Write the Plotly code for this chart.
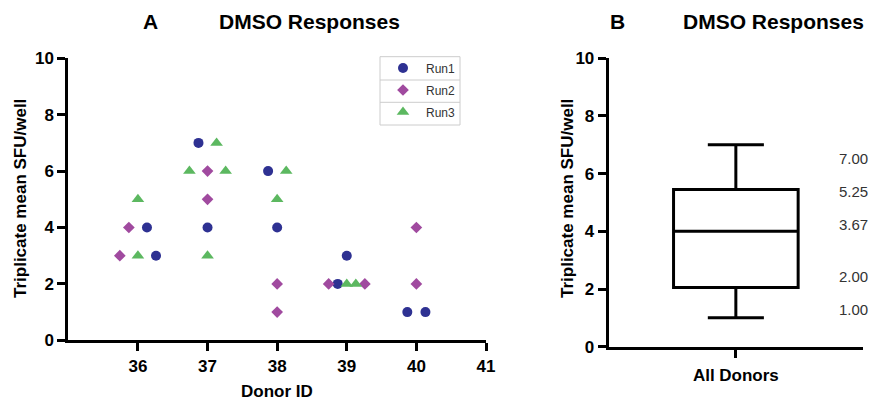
import plotly.graph_objects as go

# ---- data ----
run1_x = [36.13, 36.26, 36.87, 37.0, 37.87, 38.0, 38.87, 39.0, 39.87, 40.13]
run1_y = [4, 3, 7, 4, 6, 4, 2, 3, 1, 1]
run2_x = [35.74, 35.87, 37.0, 37.0, 38.0, 38.0, 38.74, 39.26, 40.0, 40.0]
run2_y = [3, 4, 6, 5, 2, 1, 2, 2, 4, 2]
run3_x = [36.0, 36.0, 36.74, 37.0, 37.13, 37.26, 38.0, 38.13, 39.0, 39.13]
run3_y = [5, 3, 6, 3, 7, 6, 5, 6, 2, 2]
series_names = ["Run1", "Run2", "Run3"]
donor_ticks = [36, 37, 38, 39, 40, 41]
y_ticks = [0, 2, 4, 6, 8, 10]

box_category = ["All Donors"]
box_min = [1.0]
box_q1 = [2.05]
box_median = [4.0]
box_q3 = [5.45]
box_max = [7.0]
box_labels = ["7.00", "5.25", "3.67", "2.00", "1.00"]
box_label_y = [6.54, 5.39, 4.23, 2.45, 1.29]

# ---- style ----
W, H = 878, 402
FONT = "Liberation Sans, Arial, sans-serif"
C1, C2, C3 = "#2E3192", "#A04A9F", "#5CB860"


def px_x(p):
    return p / W


def px_y(p):
    return 1 - p / H


fig = go.Figure()
fig.add_trace(go.Scatter(x=run1_x, y=run1_y, mode="markers", name=series_names[0],
                         legendgroup="a", marker=dict(symbol="circle", size=10, color=C1),
                         xaxis="x", yaxis="y"))
fig.add_trace(go.Scatter(x=run2_x, y=run2_y, mode="markers", name=series_names[1],
                         legendgroup="b", marker=dict(symbol="diamond", size=9, color=C2),
                         xaxis="x", yaxis="y"))
fig.add_trace(go.Scatter(x=run3_x, y=run3_y, mode="markers", name=series_names[2],
                         legendgroup="c", marker=dict(symbol="triangle-up", size=11, color=C3),
                         xaxis="x", yaxis="y"))

fig.add_trace(go.Box(x=box_category, q1=box_q1, median=box_median, q3=box_q3,
                     lowerfence=box_min, upperfence=box_max,
                     width=0.49, whiskerwidth=0.45, fillcolor="white",
                     line=dict(color="black", width=3), boxpoints=False,
                     showlegend=False, xaxis="x2", yaxis="y2", hoverinfo="skip"))

axis_common = dict(showline=True, linecolor="black", linewidth=3, ticks="outside",
                   tickwidth=3, ticklen=8, tickcolor="black", showgrid=False,
                   zeroline=False, automargin=False,
                   tickfont=dict(family=FONT, size=17, color="black", weight="bold"))

fig.update_layout(
    width=W, height=H,
    margin=dict(l=0, r=0, t=0, b=0),
    paper_bgcolor="white", plot_bgcolor="white",
    font=dict(family=FONT),
    xaxis=dict(domain=[px_x(68.3), px_x(486)], range=[35, 41], tickvals=donor_ticks,
               anchor="y", ticklabelstandoff=0, **axis_common),
    yaxis=dict(domain=[px_y(340.3), px_y(58.3)], range=[0, 10], tickvals=y_ticks,
               anchor="x", **axis_common),
    xaxis2=dict(domain=[px_x(608.7), px_x(863)], type="category", range=[-0.5, 0.5],
                anchor="y2", ticklabelstandoff=3, **axis_common),
    yaxis2=dict(domain=[px_y(346.7), px_y(58.3)], range=[0, 10], tickvals=y_ticks,
                anchor="x2", **axis_common),
    legend=dict(x=px_x(380), y=px_y(53.5), xanchor="left", yanchor="top",
                borderwidth=0, bgcolor="rgba(0,0,0,0)",
                font=dict(family=FONT, size=12, color="#333333"),
                traceorder="grouped", tracegroupgap=3, itemwidth=36, itemclick=False),
    showlegend=True,
)

# legend frame and row separators
fig.add_shape(type="rect", xref="paper", yref="paper",
              x0=px_x(380), x1=px_x(460), y0=px_y(125), y1=px_y(56.7),
              line=dict(color="#cccccc", width=1), fillcolor="rgba(0,0,0,0)")
for sep in (80.0, 102.3):
    fig.add_shape(type="line", xref="paper", yref="paper",
                  x0=px_x(380), x1=px_x(460), y0=px_y(sep), y1=px_y(sep),
                  line=dict(color="#cccccc", width=1))

title_font = dict(family=FONT, size=21, color="black", weight="bold")
label_font = dict(family=FONT, size=17, color="black", weight="bold")
annos = [
    dict(text="A", x=px_x(150), y=px_y(21), font=title_font),
    dict(text="DMSO Responses", x=px_x(309), y=px_y(21), font=title_font),
    dict(text="B", x=px_x(617), y=px_y(21), font=title_font),
    dict(text="DMSO Responses", x=px_x(773), y=px_y(21), font=title_font),
    dict(text="Triplicate mean SFU/well", x=px_x(20), y=px_y(199), textangle=-90, font=label_font),
    dict(text="Triplicate mean SFU/well", x=px_x(567), y=px_y(199), textangle=-90, font=label_font),
    dict(text="Donor ID", x=px_x(277), y=px_y(391), font=label_font),
]
for a in annos:
    fig.add_annotation(xref="paper", yref="paper", showarrow=False,
                       xanchor="center", yanchor="middle", **a)

for lab, yv in zip(box_labels, box_label_y):
    fig.add_annotation(text=lab, xref="paper", yref="y2", x=px_x(853), y=yv,
                       showarrow=False, xanchor="center", yanchor="middle",
                       font=dict(family=FONT, size=15, color="#333333"))

fig.write_html("out.html", config={"displayModeBar": False},
               post_script="document.body.style.margin='0';document.body.style.padding='0';")
